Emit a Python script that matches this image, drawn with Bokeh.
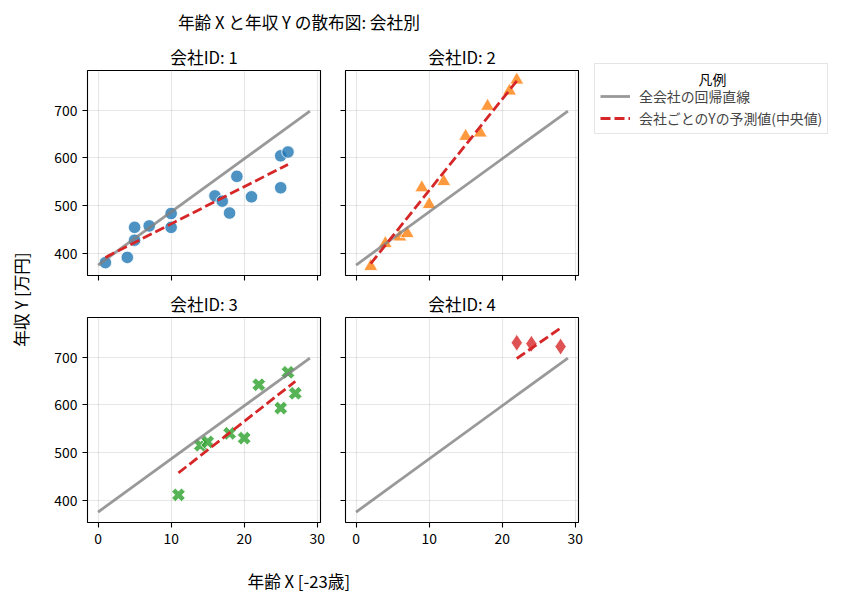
import math
from bokeh.plotting import figure
from bokeh.models import Range1d, FixedTicker, Label, Legend, LegendItem
from bokeh.layouts import row, column
from bokeh.embed import file_html
from bokeh.resources import INLINE

FONT = "Noto Sans CJK JP"

# ---- texts ----
title_text = "年齢 X と年収 Y の散布図: 会社別"
xlabel_text = "年齢 X [-23歳]"
ylabel_text = "年収 Y [万円]"
legend_title = "凡例"
legend_labels = ["全会社の回帰直線", "会社ごとのYの予測値(中央値)"]
company_ids = [1, 2, 3, 4]
x_ticks = [0, 10, 20, 30]
y_ticks = [400, 500, 600, 700]

# ---- data ----
c1_x = [1, 4, 5, 5, 7, 10, 10, 16, 17, 18, 19, 21, 25, 25, 26]
c1_y = [380, 391, 454, 427, 457, 483, 454, 520, 509, 484, 561, 518, 604, 537, 612]

c2_x = [2, 4, 6, 7, 9, 10, 12, 15, 17, 18, 21, 22]
c2_y = [372, 420, 434, 441, 537, 502, 550, 645, 652, 708, 740, 763]

c3_x = [11, 14, 15, 18, 20, 22, 25, 26, 27]
c3_y = [411, 515, 522, 540, 530, 642, 593, 668, 624]

c4_x = [22, 24, 28]
c4_y = [730, 728, 722]

# overall regression line (all companies)
reg_x = [0, 29]
reg_y = [375, 698]

# per-company predicted (median) lines
pred1_x = [1, 26]
pred1_y = [391, 586]
pred2_x = [2, 22]
pred2_y = [378, 761]
pred3_x = [11, 27]
pred3_y = [457, 649]
pred4_x = [22, 28]
pred4_y = [697, 761]

RED = "#d62728"
GRAY = "gray"


def make_panel(cid, xs, ys, pxs, pys, marker, color, size, angle,
               w, h, bl, br, bt, bb, show_xlab, show_ylab):
    p = figure(width=w, height=h, x_range=Range1d(-1.45, 30.45),
               y_range=Range1d(353, 783), output_backend="svg",
               toolbar_location=None, title=f"会社ID: {cid}",
               min_border_left=bl, min_border_right=br,
               min_border_top=bt, min_border_bottom=bb)
    p.title.align = "center"
    p.title.text_font = FONT
    p.title.text_font_size = "16.7px"
    p.title.text_font_style = "normal"
    p.title.text_color = "black"
    p.title.standoff = 4
    p.outline_line_color = "black"
    p.outline_line_alpha = 1
    p.outline_line_width = 1.1
    p.background_fill_color = "white"
    p.border_fill_color = "white"

    p.xaxis.ticker = FixedTicker(ticks=x_ticks)
    p.yaxis.ticker = FixedTicker(ticks=y_ticks)
    for ax in (p.xaxis, p.yaxis):
        ax.axis_line_color = None
        ax.major_tick_line_color = "black"
        ax.major_tick_line_width = 1.1
        ax.major_tick_out = 5
        ax.major_tick_in = 0
        ax.minor_tick_line_color = None
        ax.major_label_text_font = FONT
        ax.major_label_text_font_size = "13.9px"
        ax.major_label_text_color = "black"
        ax.major_label_standoff = 5
    if not show_xlab:
        p.xaxis.major_label_overrides = {t: "" for t in x_ticks}
        p.xaxis.major_label_text_font_size = "0px"
        p.xaxis.major_label_standoff = 0
    if not show_ylab:
        p.yaxis.major_label_overrides = {t: "" for t in y_ticks}
        p.yaxis.major_label_text_font_size = "0px"
        p.yaxis.major_label_standoff = 0

    p.grid.grid_line_color = "#b0b0b0"
    p.grid.grid_line_alpha = 0.3
    p.grid.grid_line_width = 1.1

    p.scatter(xs, ys, marker=marker, size=size, angle=angle,
              fill_color=color, fill_alpha=0.8,
              line_color="white", line_width=0.8)
    p.line(reg_x, reg_y, line_color=GRAY, line_alpha=0.8, line_width=2.8)
    p.line(pxs, pys, line_color=RED, line_width=2.8, line_dash="10 4")
    return p


p1 = make_panel(company_ids[0], c1_x, c1_y, pred1_x, pred1_y, "circle", "#1f77b4", 12.5, 0,
                292, 247, 47, 12, 30, 12, False, True)
p2 = make_panel(company_ids[1], c2_x, c2_y, pred2_x, pred2_y, "triangle", "#ff7f0e", 14, 0,
                254, 247, 13, 8, 30, 12, False, False)
p3 = make_panel(company_ids[2], c3_x, c3_y, pred3_x, pred3_y, "plus", "#2ca02c", 14, math.pi / 4,
                292, 265, 47, 12, 30, 30, True, True)
p4 = make_panel(company_ids[3], c4_x, c4_y, pred4_x, pred4_y, "diamond", RED, 17, 0,
                254, 265, 13, 8, 30, 30, True, False)


def text_fig(w, h):
    f = figure(width=w, height=h, x_range=Range1d(0, w), y_range=Range1d(0, h),
               output_backend="svg", toolbar_location=None, min_border=0,
               x_axis_type=None, y_axis_type=None)
    f.outline_line_color = None
    f.background_fill_color = "white"
    f.border_fill_color = "white"
    return f


title_fig = text_fig(833, 40)
title_fig.add_layout(Label(x=298.4, y=18.3, text=title_text, text_align="center",
                           text_baseline="middle", text_font=FONT, text_font_style="normal",
                           text_font_size="16.7px", text_color="black"))

ylab_fig = text_fig(40, 512)
ylab_fig.add_layout(Label(x=20, y=253, text=ylabel_text, angle=math.pi / 2,
                          text_align="center", text_baseline="middle", text_font=FONT,
                          text_font_style="normal",
                          text_font_size="16.7px", text_color="black"))

xlab_fig = text_fig(833, 42)
xlab_fig.add_layout(Label(x=298.3, y=13.5, text=xlabel_text, text_align="center",
                          text_baseline="middle", text_font=FONT, text_font_style="normal",
                          text_font_size="16.7px", text_color="black"))

leg_fig = text_fig(247, 120)
lr1 = leg_fig.line(reg_x, reg_y, line_color=GRAY, line_alpha=0.8, line_width=2.8, visible=False)
lr2 = leg_fig.line(pred1_x, pred1_y, line_color=RED, line_width=2.8, line_dash="10 4", visible=False)
legend = Legend(items=[LegendItem(label=legend_labels[0], renderers=[lr1]),
                       LegendItem(label=legend_labels[1], renderers=[lr2])],
                location=(8, 26), title=" ", margin=0, padding=5,
                glyph_width=30, glyph_height=18, label_height=18, spacing=2,
                label_standoff=9, title_standoff=2,
                label_text_font=FONT, label_text_font_size="13.9px",
                title_text_font=FONT, title_text_font_size="10px",
                inactive_fill_alpha=0,
                border_line_color="#cccccc", border_line_width=1,
                background_fill_color="white", background_fill_alpha=0)
leg_fig.add_layout(legend, "center")
leg_fig.add_layout(Label(x=126, y=82, text=legend_title, text_align="center",
                         text_baseline="middle", text_font=FONT,
                         text_font_style="normal",
                         text_font_size="13.9px", text_color="black"))

panels = column(row(p1, p2), row(p3, p4))
mid = row(ylab_fig, panels, leg_fig)
layout = column(title_fig, mid, xlab_fig)

open("out.html", "w").write(file_html(layout, INLINE))
